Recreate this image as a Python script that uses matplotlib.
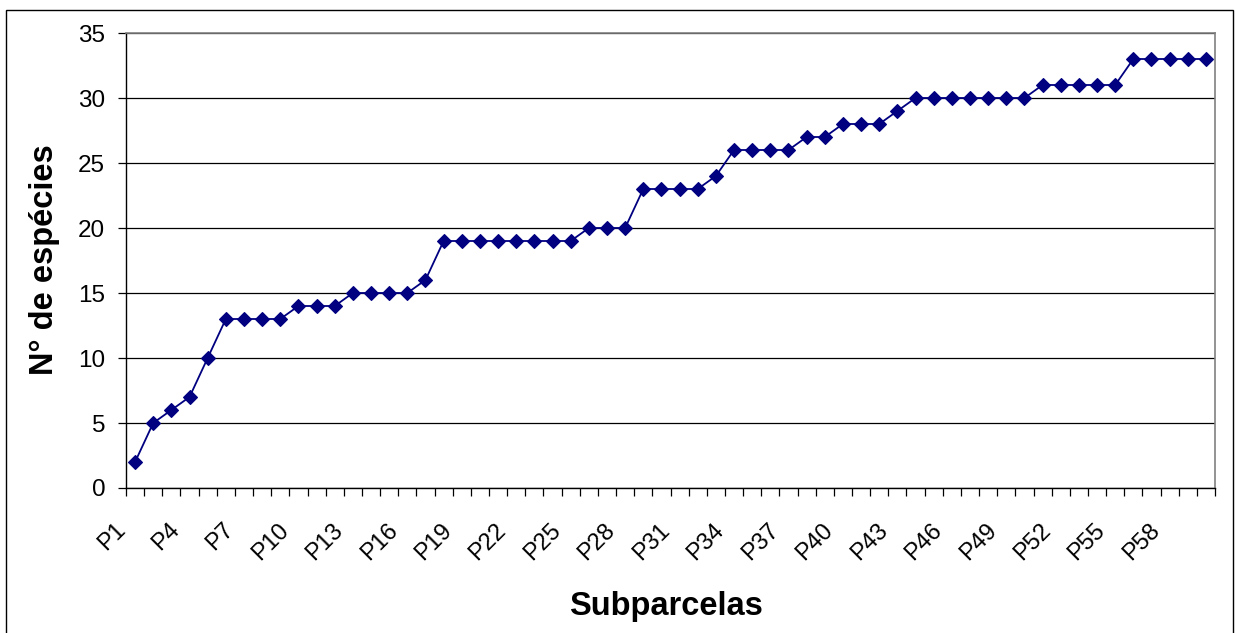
import matplotlib.pyplot as plt
import matplotlib.patches as patches
import matplotlib.transforms as mtransforms
import numpy as np

plt.rcParams['font.family'] = ['Liberation Sans', 'DejaVu Sans']

# subplot labels and species counts
parcelas = ['P%d' % i for i in range(1, 61)]
especies = [2, 5, 6, 7, 10, 13, 13, 13, 13, 14,
            14, 14, 15, 15, 15, 15, 16, 19, 19, 19,
            19, 19, 19, 19, 19, 20, 20, 20, 23, 23,
            23, 23, 24, 26, 26, 26, 26, 27, 27, 28,
            28, 28, 29, 30, 30, 30, 30, 30, 30, 30,
            31, 31, 31, 31, 31, 33, 33, 33, 33, 33]

W, H = 1235, 633
fig = plt.figure(figsize=(W/100., H/100.), dpi=100)
ax = fig.add_axes([126./W, 1-488./H, (1215-126.)/W, (488-33.)/H])

# outer chart border
fig.patches.append(patches.Rectangle((6./W, -0.05), (1233-6.)/W, 1.05-10./H,
                                     transform=fig.transFigure, fill=False,
                                     edgecolor='black', linewidth=1.0))

x = np.arange(len(parcelas))
ax.plot(x, especies, color='#000080', linewidth=1.3, marker='D',
        markersize=7, markerfacecolor='#000080', markeredgecolor='#000080',
        markeredgewidth=0.8, zorder=3)

ax.set_xlim(-0.5, len(parcelas) - 0.5)
ax.set_ylim(0, 35)
ax.set_yticks(np.arange(0, 36, 5))
ax.yaxis.grid(True, color='black', linewidth=0.9)
ax.set_axisbelow(True)

ax.set_xticks(np.arange(-0.5, len(parcelas), 1.0), minor=False)
ax.set_xticklabels([])
ax.set_xticks(x[::3], minor=True)
ax.set_xticklabels(parcelas[::3], minor=True, rotation=45, ha='right',
                   va='baseline', rotation_mode='anchor', fontsize=17)
ax.tick_params(axis='x', which='major', direction='out', length=6, width=0.9)
ax.tick_params(axis='x', which='minor', length=0, pad=31)
ax.tick_params(axis='y', direction='out', length=6, width=0.9, labelsize=17.5,
               pad=9)

# shift rotated labels a bit left of the category centre
offset = mtransforms.ScaledTranslation(-0.09, 0, fig.dpi_scale_trans)
for lab in ax.get_xticklabels(minor=True):
    lab.set_transform(lab.get_transform() + offset)

for s in ['top', 'right']:
    ax.spines[s].set_color('#808080')
    ax.spines[s].set_linewidth(1.2)
for s in ['left', 'bottom']:
    ax.spines[s].set_color('black')
    ax.spines[s].set_linewidth(1.0)

fig.text(666./W, 1-606./H, 'Subparcelas', ha='center', va='center',
         fontsize=23.5, fontweight='bold')
fig.text(45./W, 1-260./H, 'N° de espécies', ha='center', va='center',
         fontsize=23.5, fontweight='bold', rotation=90)

plt.savefig('out.png', dpi=100)
